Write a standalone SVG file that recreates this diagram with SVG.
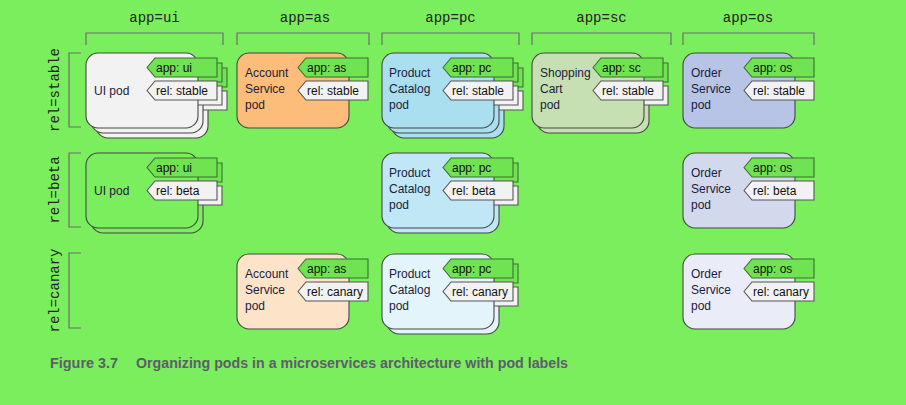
<svg xmlns="http://www.w3.org/2000/svg" xmlns:xlink="http://www.w3.org/1999/xlink" width="906" height="405" viewBox="0 0 906 405">
<style>
.box{stroke:#474747;stroke-width:1.1}
.app{fill:#6fe352;stroke:#3d6e33;stroke-width:1.1}
.rel{fill:#f2f2f2;stroke:#555;stroke-width:1.1}
.lbl{font-family:"Liberation Sans",Arial,sans-serif;font-size:12px;fill:#1c1c3c}
.tt{font-family:"Liberation Sans",Arial,sans-serif;font-size:12px;fill:#111}
.hdr{font-family:"Liberation Mono","Courier New",monospace;font-size:14px;fill:#222;text-anchor:middle}
.brk{fill:none;stroke:#6e6e6e;stroke-width:1.2}
.cap{font-family:"Liberation Sans Narrow","Liberation Sans",Arial,sans-serif;font-size:14px;font-weight:bold;fill:#5d5d6b}
</style>
<defs>
<g id="rep">
<rect class="box" x="0" y="0" width="112" height="75" rx="12"/>
<polygon class="app" points="61,14.5 69,5 131,5 131,24 69,24"/>
<polygon class="rel" points="61,37.5 69,28 131,28 131,47 69,47"/>
</g>
</defs>
<rect width="906" height="405" fill="#7aee5c"/>

<g id="headers">
<text class="hdr" x="154.5" y="22">app=ui</text>
<text class="hdr" x="305" y="22">app=as</text>
<text class="hdr" x="450.5" y="22">app=pc</text>
<text class="hdr" x="601.5" y="22">app=sc</text>
<text class="hdr" x="748" y="22">app=os</text>
<text class="hdr" transform="translate(59,90) rotate(-90)">rel=stable</text>
<text class="hdr" transform="translate(59,190) rotate(-90)">rel=beta</text>
<text class="hdr" transform="translate(59,290.5) rotate(-90)">rel=canary</text>
</g>

<g id="connectors">
<path class="brk" d="M86,45V33H223V45"/>
<path class="brk" d="M237,45V33H369V45"/>
<path class="brk" d="M382,45V33H519V45"/>
<path class="brk" d="M532,45V33H671V45"/>
<path class="brk" d="M683,45V33H814V45"/>
<path class="brk" d="M81,53H69V127H81"/>
<path class="brk" d="M81,153H69V227H81"/>
<path class="brk" d="M81,253H69V328H81"/>
</g>

<g id="pod-ui-stable" transform="translate(86,53)" style="fill:#f2f2f2">
<use xlink:href="#rep" x="10" y="10"/>
<use xlink:href="#rep" x="5" y="5"/>
<use xlink:href="#rep"/>
<text class="tt" x="70" y="18.5">app: ui</text>
<text class="tt" x="70" y="41.5">rel: stable</text>
<text class="lbl" x="8" y="42">UI pod</text>
</g>

<g id="pod-as-stable" transform="translate(237,53)" style="fill:#fbbd79">
<use xlink:href="#rep"/>
<text class="tt" x="70" y="18.5">app: as</text>
<text class="tt" x="70" y="41.5">rel: stable</text>
<text class="lbl" x="8" y="24">Account</text>
<text class="lbl" x="8" y="40">Service</text>
<text class="lbl" x="8" y="56">pod</text>
</g>

<g id="pod-pc-stable" transform="translate(382,53)" style="fill:#aadff0">
<use xlink:href="#rep" x="10" y="10"/>
<use xlink:href="#rep" x="5" y="5"/>
<use xlink:href="#rep"/>
<text class="tt" x="70" y="18.5">app: pc</text>
<text class="tt" x="70" y="41.5">rel: stable</text>
<text class="lbl" x="7" y="24">Product</text>
<text class="lbl" x="7" y="40">Catalog</text>
<text class="lbl" x="7" y="56">pod</text>
</g>

<g id="pod-sc-stable" transform="translate(532,53)" style="fill:#c6e0b4">
<use xlink:href="#rep" x="5" y="5"/>
<use xlink:href="#rep"/>
<text class="tt" x="70" y="18.5">app: sc</text>
<text class="tt" x="70" y="41.5">rel: stable</text>
<text class="lbl" x="8" y="24">Shopping</text>
<text class="lbl" x="8" y="40">Cart</text>
<text class="lbl" x="8" y="56">pod</text>
</g>

<g id="pod-os-stable" transform="translate(683,53)" style="fill:#b7c4e6">
<use xlink:href="#rep"/>
<text class="tt" x="70" y="18.5">app: os</text>
<text class="tt" x="70" y="41.5">rel: stable</text>
<text class="lbl" x="8" y="24">Order</text>
<text class="lbl" x="8" y="40">Service</text>
<text class="lbl" x="8" y="56">pod</text>
</g>

<g id="pod-ui-beta" transform="translate(86,153)" style="fill:#7aee5c">
<use xlink:href="#rep" x="5" y="5"/>
<use xlink:href="#rep"/>
<text class="tt" x="70" y="18.5">app: ui</text>
<text class="tt" x="70" y="41.5">rel: beta</text>
<text class="lbl" x="8" y="42">UI pod</text>
</g>

<g id="pod-pc-beta" transform="translate(382,153)" style="fill:#c0e7f5">
<use xlink:href="#rep" x="5" y="5"/>
<use xlink:href="#rep"/>
<text class="tt" x="70" y="18.5">app: pc</text>
<text class="tt" x="70" y="41.5">rel: beta</text>
<text class="lbl" x="7" y="24">Product</text>
<text class="lbl" x="7" y="40">Catalog</text>
<text class="lbl" x="7" y="56">pod</text>
</g>

<g id="pod-os-beta" transform="translate(683,153)" style="fill:#d3d9ec">
<use xlink:href="#rep"/>
<text class="tt" x="70" y="18.5">app: os</text>
<text class="tt" x="70" y="41.5">rel: beta</text>
<text class="lbl" x="8" y="24">Order</text>
<text class="lbl" x="8" y="40">Service</text>
<text class="lbl" x="8" y="56">pod</text>
</g>

<g id="pod-as-canary" transform="translate(237,254)" style="fill:#fde4c9">
<use xlink:href="#rep"/>
<text class="tt" x="70" y="18.5">app: as</text>
<text class="tt" x="70" y="41.5">rel: canary</text>
<text class="lbl" x="8" y="24">Account</text>
<text class="lbl" x="8" y="40">Service</text>
<text class="lbl" x="8" y="56">pod</text>
</g>

<g id="pod-pc-canary" transform="translate(382,254)" style="fill:#e3f4fb">
<use xlink:href="#rep" x="5" y="5"/>
<use xlink:href="#rep"/>
<text class="tt" x="70" y="18.5">app: pc</text>
<text class="tt" x="70" y="41.5">rel: canary</text>
<text class="lbl" x="7" y="24">Product</text>
<text class="lbl" x="7" y="40">Catalog</text>
<text class="lbl" x="7" y="56">pod</text>
</g>

<g id="pod-os-canary" transform="translate(683,254)" style="fill:#eaedf8">
<use xlink:href="#rep"/>
<text class="tt" x="70" y="18.5">app: os</text>
<text class="tt" x="70" y="41.5">rel: canary</text>
<text class="lbl" x="8" y="24">Order</text>
<text class="lbl" x="8" y="40">Service</text>
<text class="lbl" x="8" y="56">pod</text>
</g>

<g id="caption">
<text class="cap" x="50" y="368" textLength="68" lengthAdjust="spacingAndGlyphs">Figure 3.7</text>
<text class="cap" x="136" y="368" textLength="432" lengthAdjust="spacingAndGlyphs">Organizing pods in a microservices architecture with pod labels</text>
</g>
</svg>
